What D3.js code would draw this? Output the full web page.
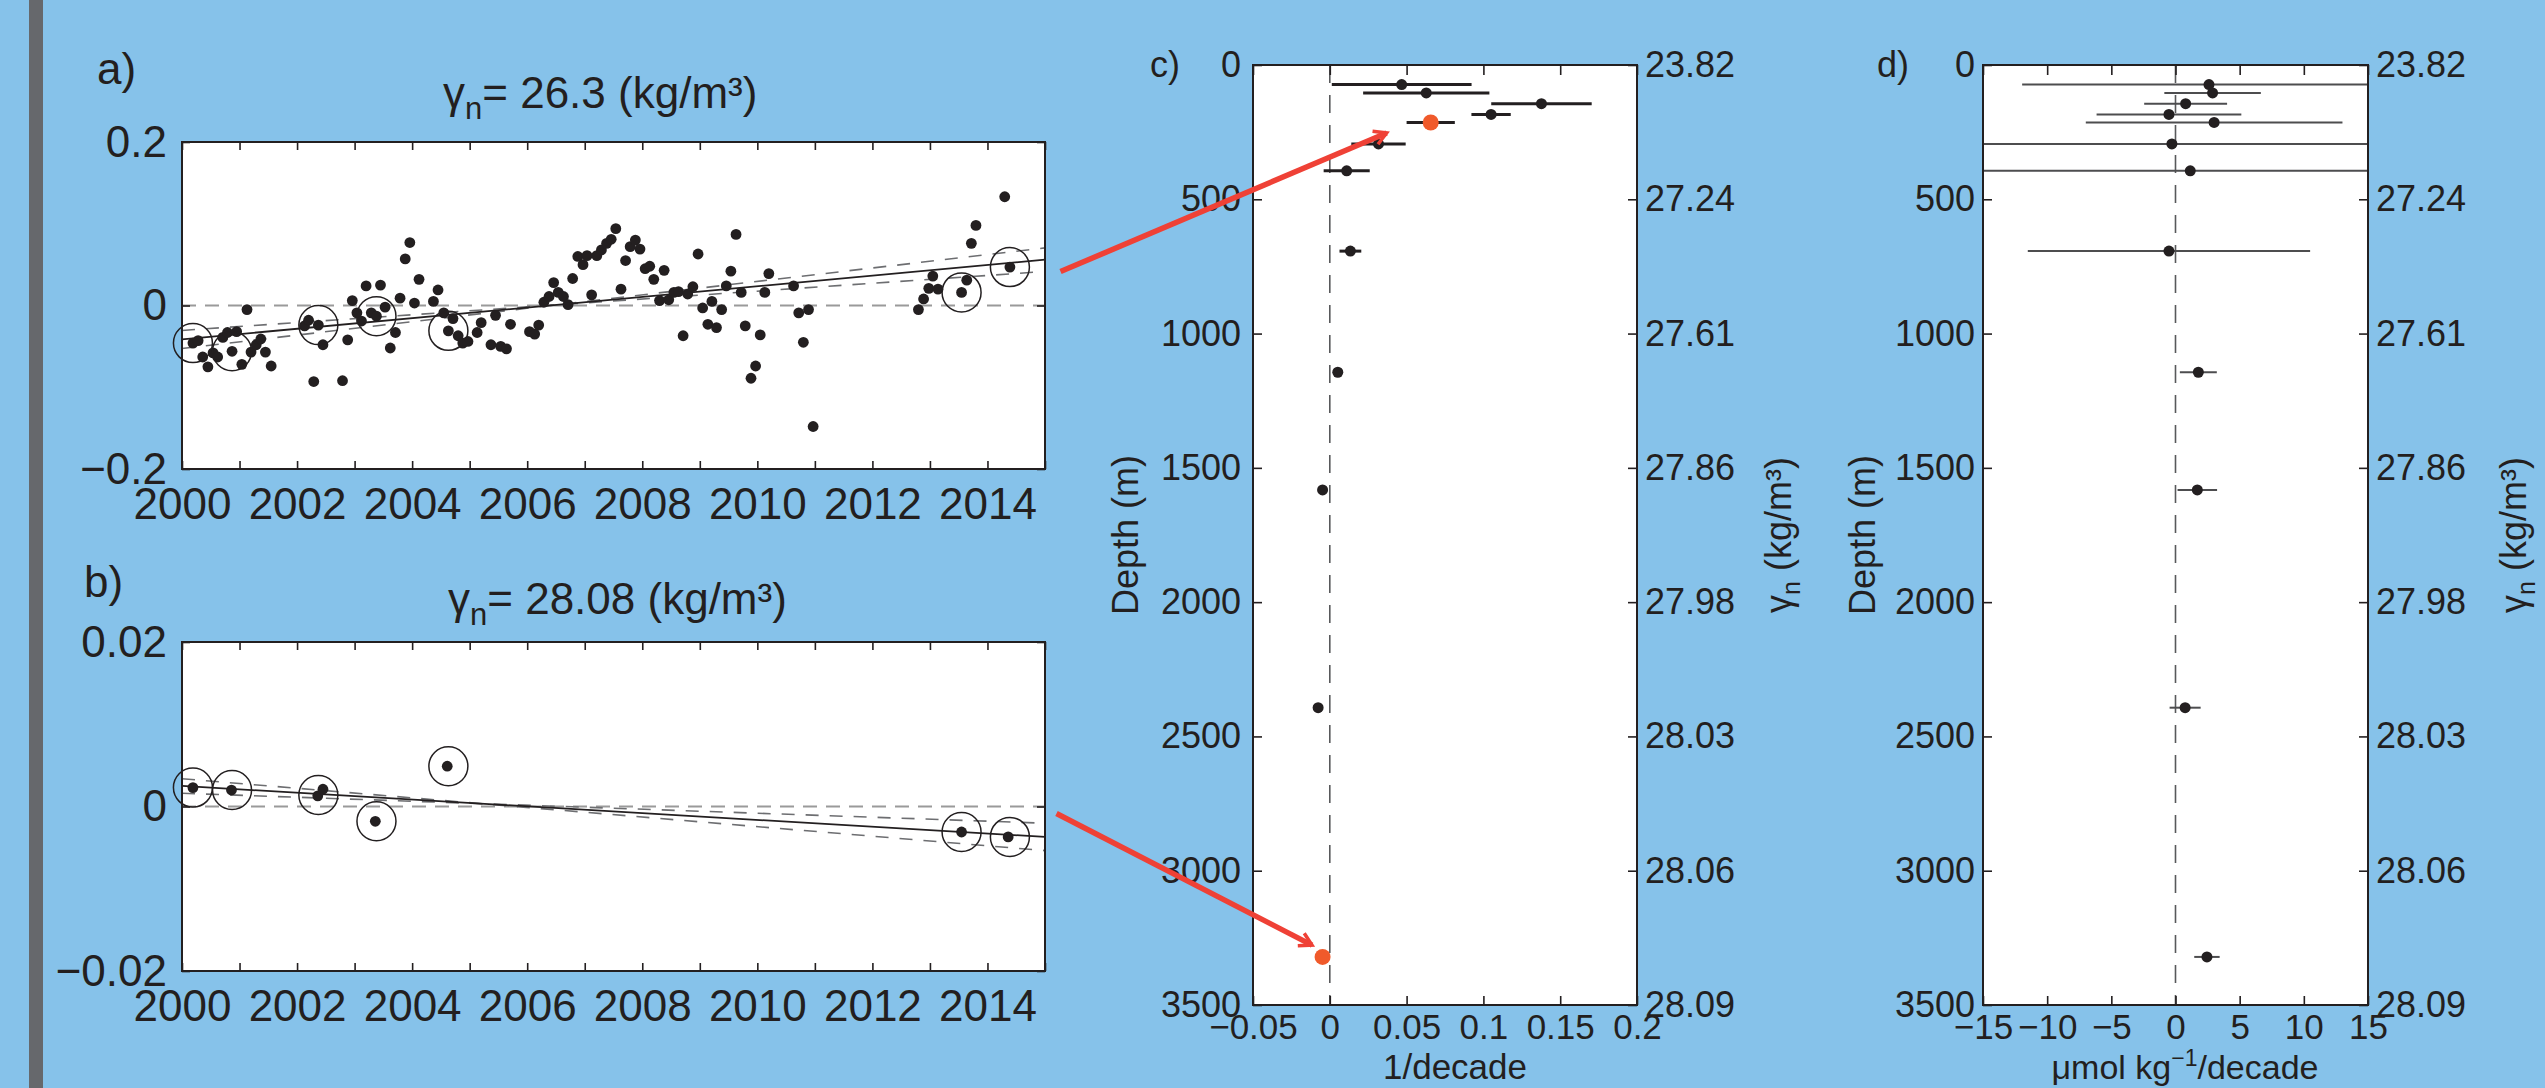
<!DOCTYPE html>
<meta charset="utf-8">
<head>
  <style>
    body { margin: 0; background: #86c2ea; }
    svg text { font-family: "Liberation Sans", Arial, Helvetica, sans-serif; fill: #231f20; }
  </style>
</head>
<script src="https://d3js.org/d3.v7.min.js"></script>
<div id="my_dataviz"></div>
<script>
const W = 2545, H = 1088;
const INK = "#231f20";
const RED = "#f05a2b";

// ---- panel a: gamma_n = 26.3 anomaly series
const yearsA = [2000.19, 2000.28, 2000.36, 2000.45, 2000.54, 2000.62, 2000.71, 2000.79, 2000.87, 2000.95,
  2001.04, 2001.13, 2001.20, 2001.29, 2001.37, 2001.45, 2001.55, 2002.13, 2002.20, 2002.29,
  2002.37, 2002.45, 2002.79, 2002.88, 2002.96, 2003.04, 2003.12, 2003.20, 2003.29, 2003.38,
  2003.45, 2003.53, 2003.62, 2003.71, 2003.79, 2003.88, 2003.96, 2004.04, 2004.12, 2004.37,
  2004.45, 2004.55, 2004.63, 2004.71, 2004.80, 2004.88, 2004.97, 2005.13, 2005.20, 2005.37,
  2005.45, 2005.54, 2005.64, 2005.71, 2006.04, 2006.13, 2006.20, 2006.29, 2006.38, 2006.46,
  2006.54, 2006.63, 2006.71, 2006.79, 2006.88, 2006.97, 2007.04, 2007.12, 2007.21, 2007.29,
  2007.38, 2007.46, 2007.54, 2007.63, 2007.71, 2007.79, 2007.88, 2007.96, 2008.05, 2008.13,
  2008.20, 2008.30, 2008.38, 2008.46, 2008.55, 2008.63, 2008.71, 2008.79, 2008.88, 2008.97,
  2009.05, 2009.14, 2009.21, 2009.29, 2009.38, 2009.46, 2009.54, 2009.63, 2009.72, 2009.79,
  2009.89, 2009.97, 2010.05, 2010.13, 2010.20, 2010.63, 2010.72, 2010.80, 2010.89, 2010.97,
  2012.80, 2012.89, 2012.98, 2013.05, 2013.14, 2013.55, 2013.64, 2013.72, 2013.80, 2014.30,
  2014.39];
const valuesA = [-0.046, -0.043, -0.063, -0.075, -0.058, -0.063, -0.039, -0.033, -0.056, -0.032,
  -0.072, -0.005, -0.057, -0.048, -0.041, -0.057, -0.074, -0.025, -0.018, -0.093,
  -0.024, -0.048, -0.092, -0.042, 0.006, -0.009, -0.019, 0.024, -0.009, -0.013,
  0.025, -0.002, -0.052, -0.033, 0.009, 0.057, 0.077, 0.003, 0.032, 0.005,
  0.019, -0.009, -0.031, -0.016, -0.037, -0.046, -0.044, -0.033, -0.021, -0.048,
  -0.012, -0.050, -0.053, -0.023, -0.032, -0.035, -0.024, 0.004, 0.011, 0.028,
  0.016, 0.011, 0.001, 0.033, 0.060, 0.050, 0.061, 0.013, 0.061, 0.068,
  0.076, 0.081, 0.094, 0.020, 0.055, 0.072, 0.080, 0.069, 0.045, 0.048,
  0.032, 0.006, 0.043, 0.007, 0.016, 0.017, -0.037, 0.014, 0.023, 0.063,
  -0.003, -0.023, 0.005, -0.027, -0.005, 0.024, 0.042, 0.087, 0.016, -0.025,
  -0.089, -0.074, -0.036, 0.016, 0.039, 0.024, -0.009, -0.045, -0.005, -0.148,
  -0.005, 0.008, 0.021, 0.036, 0.020, 0.016, 0.031, 0.076, 0.098, 0.133,
  0.047];
const cruiseYears = [2000.19, 2000.87, 2002.37, 2003.38, 2004.63, 2013.55, 2014.39];
const cruiseA = [-0.046, -0.056, -0.024, -0.013, -0.031, 0.016, 0.047];

// ---- panel b: gamma_n = 28.08
const yearsB = [2000.19, 2000.86, 2002.36, 2002.45, 2003.36, 2004.61, 2013.55, 2014.36];
const valuesB = [0.0023, 0.0020, 0.0013, 0.0021, -0.0018, 0.0049, -0.0031, -0.0037];
const cruiseB = [0.0023, 0.0020, 0.0014, -0.0018, 0.0049, -0.0031, -0.0037];

// fitted lines, values at the two ends of the period
const fitYears = [2000, 2015];
const fitA = [-0.0415, 0.056];
const fanA = [[-0.0526, 0.0705], [-0.0305, 0.0416]];
const fitB = [0.0025, -0.0037];
const fanB = [[0.00338, -0.00536], [0.00161, -0.00203]];

// ---- panels c, d: trends by depth
const depths = [73, 104, 144, 184, 214, 294, 394, 693, 1144, 1582, 2393, 3321];
const highlightDepths = [214, 3321];
const trendC = [0.0468, 0.0628, 0.1378, 0.105, 0.0657, 0.0317, 0.011, 0.0134, 0.0052, -0.0047, -0.0076, -0.0047];
const errC = [0.0455, 0.0411, 0.0327, 0.0128, 0.0157, 0.0177, 0.015, 0.0071, 0.001, 0.003, 0.002, 0.001];
const trendD = [2.61, 2.89, 0.79, -0.51, 3.01, -0.28, 1.15, -0.51, 1.78, 1.70, 0.75, 2.45];
const errD = [14.56, 3.76, 3.23, 5.64, 10.0, 20, 25, 11.0, 1.44, 1.54, 1.21, 0.99];
const depthTicks = [0, 500, 1000, 1500, 2000, 2500, 3000, 3500];
const gammaLabels = ["23.82", "27.24", "27.61", "27.86", "27.98", "28.03", "28.06", "28.09"];
const ticksC = [-0.05, 0, 0.05, 0.1, 0.15, 0.2];
const labelsC = ["\u22120.05", "0", "0.05", "0.1", "0.15", "0.2"];
const ticksD = [-15, -10, -5, 0, 5, 10, 15];
const labelsD = ["\u221215", "\u221210", "\u22125", "0", "5", "10", "15"];

// arrows: from panel a / b (year, value) to panel c (trend, depth)
const arrowFrom = [[2015.27, 0.0415], [2015.2, -0.00085]];
const arrowTo = [[0.037, 253], [-0.0116, 3277]];

var svg = d3.select("#my_dataviz")
  .append("svg")
  .attr("width", W)
  .attr("height", H)
  .style("display", "block");

svg.append("rect").attr("width", W).attr("height", H).attr("fill", "#86c2ea");
svg.append("rect").attr("x", 29).attr("width", 14).attr("height", H).attr("fill", "#66686c");

function styleAxis(sel, size) {
  sel.select(".domain").remove();
  sel.selectAll(".tick line").attr("stroke", INK).attr("stroke-width", 1.6);
  sel.selectAll("text").attr("font-size", size).attr("fill", INK);
}

function timePanel(o) {
  const x = d3.scaleLinear().domain([2000, 2015]).range([182, 1045]);
  const y = d3.scaleLinear().domain(o.yDomain).range([o.bottom, o.top]);
  const g = svg.append("g");

  g.append("rect")
    .attr("x", 182).attr("y", o.top)
    .attr("width", 1045 - 182).attr("height", o.bottom - o.top)
    .attr("fill", "white");

  g.append("line")
    .attr("x1", x(2000)).attr("x2", x(2015))
    .attr("y1", y(0)).attr("y2", y(0))
    .attr("stroke", "#9a9a9a").attr("stroke-width", 2)
    .attr("stroke-dasharray", "14,9");

  const line = d3.line().x(d => x(d[0])).y(d => y(d[1]));
  o.fan.forEach(f => {
    g.append("path")
      .attr("d", line(fitYears.map((t, i) => [t, f[i]])))
      .attr("fill", "none").attr("stroke", "#6d6e71").attr("stroke-width", 1.6)
      .attr("stroke-dasharray", "13,11");
  });
  g.append("path")
    .attr("d", line(fitYears.map((t, i) => [t, o.fit[i]])))
    .attr("fill", "none").attr("stroke", INK).attr("stroke-width", 1.8);

  g.selectAll(null).data(o.years).join("circle")
    .attr("cx", d => x(d))
    .attr("cy", (d, i) => y(o.values[i]))
    .attr("r", 5.4)
    .attr("fill", INK);

  g.selectAll(null).data(cruiseYears).join("circle")
    .attr("cx", d => x(d))
    .attr("cy", (d, i) => y(o.cruise[i]))
    .attr("r", 19.5)
    .attr("fill", "none").attr("stroke", INK).attr("stroke-width", 1.5);

  g.append("rect")
    .attr("x", 182).attr("y", o.top)
    .attr("width", 1045 - 182).attr("height", o.bottom - o.top)
    .attr("fill", "none").attr("stroke", INK).attr("stroke-width", 2);

  const years = d3.range(2000, 2016);
  g.append("g").attr("transform", `translate(0,${o.bottom})`)
    .call(d3.axisBottom(x).tickValues(years).tickSize(-8).tickPadding(19)
      .tickFormat(d => (d % 2 === 0 && d < 2015) ? String(d) : ""))
    .call(styleAxis, 44);
  g.append("g").attr("transform", `translate(0,${o.top})`)
    .call(d3.axisTop(x).tickValues(years).tickSize(-8).tickFormat(""))
    .call(styleAxis, 44);
  g.append("g").attr("transform", "translate(182,0)")
    .call(d3.axisLeft(y).tickValues(o.yTicks).tickSize(-8).tickPadding(15)
      .tickFormat((d, i) => o.yLabels[i]))
    .call(styleAxis, 44);
  g.append("g").attr("transform", "translate(1045,0)")
    .call(d3.axisRight(y).tickValues(o.yTicks).tickSize(-8).tickFormat(""))
    .call(styleAxis, 44);

  g.append("text").attr("x", o.letterX).attr("y", o.letterY)
    .attr("font-size", 44).text(o.letter);

  const t = g.append("text").attr("x", o.titleX).attr("y", o.titleY).attr("font-size", 44);
  t.append("tspan").text("\u03b3");
  t.append("tspan").attr("font-size", 31).attr("dy", 11).text("n");
  t.append("tspan").attr("dy", -11).text("= " + o.title + " (kg/m\u00b3)");

  return { x, y };
}

function depthPanel(o) {
  const x = d3.scaleLinear().domain(o.xDomain).range([o.left, o.right]).clamp(true);
  const y = d3.scaleLinear().domain([0, 3500]).range([65, 1005]);
  const g = svg.append("g");

  g.append("rect")
    .attr("x", o.left).attr("y", 65)
    .attr("width", o.right - o.left).attr("height", 1005 - 65)
    .attr("fill", "white");

  g.append("line")
    .attr("x1", x(0)).attr("x2", x(0)).attr("y1", 65).attr("y2", 1005)
    .attr("stroke", "#58595b").attr("stroke-width", 1.6)
    .attr("stroke-dasharray", "18,12");

  g.selectAll(null).data(depths).join("line")
    .attr("x1", (d, i) => x(o.values[i] - o.errors[i]))
    .attr("x2", (d, i) => x(o.values[i] + o.errors[i]))
    .attr("y1", d => y(d)).attr("y2", d => y(d))
    .attr("stroke", o.barColor).attr("stroke-width", o.barWidth);

  g.selectAll(null).data(depths).join("circle")
    .attr("cx", (d, i) => x(o.values[i]))
    .attr("cy", d => y(d))
    .attr("r", d => (o.highlight && highlightDepths.includes(d)) ? 8 : 5.5)
    .attr("fill", d => (o.highlight && highlightDepths.includes(d)) ? RED : INK);

  g.append("rect")
    .attr("x", o.left).attr("y", 65)
    .attr("width", o.right - o.left).attr("height", 1005 - 65)
    .attr("fill", "none").attr("stroke", INK).attr("stroke-width", 2);

  g.append("g").attr("transform", "translate(0,1005)")
    .call(d3.axisBottom(x).tickValues(o.xTicks).tickSize(-9).tickPadding(9)
      .tickFormat((d, i) => o.xLabels[i]))
    .call(styleAxis, 35);
  g.append("g").attr("transform", "translate(0,65)")
    .call(d3.axisTop(x).tickValues(o.xTicks).tickSize(-10).tickFormat(""))
    .call(styleAxis, 35);
  g.append("g").attr("transform", `translate(${o.left},0)`)
    .call(d3.axisLeft(y).tickValues(depthTicks).tickSize(-9).tickPadding(o.padLeft)
      .tickFormat(d => String(d)))
    .call(styleAxis, 36);
  g.append("g").attr("transform", `translate(${o.right},0)`)
    .call(d3.axisRight(y).tickValues(depthTicks).tickSize(-9).tickPadding(8)
      .tickFormat((d, i) => gammaLabels[i]))
    .call(styleAxis, 36);

  g.append("text").attr("x", o.letterX).attr("y", 77).attr("font-size", 36).text(o.letter);

  g.append("text")
    .attr("transform", `translate(${o.depthLabelX},535) rotate(-90)`)
    .attr("text-anchor", "middle").attr("font-size", 36)
    .text("Depth (m)");

  const gl = g.append("text")
    .attr("transform", `translate(${o.gammaLabelX},535) rotate(-90)`)
    .attr("text-anchor", "middle").attr("font-size", 36);
  gl.append("tspan").text("\u03b3");
  gl.append("tspan").attr("font-size", 25).attr("dy", 9).text("n");
  gl.append("tspan").attr("dy", -9).text(" (kg/m\u00b3)");

  return { g, x, y };
}

const pa = timePanel({
  top: 142, bottom: 469, yDomain: [-0.2, 0.2],
  years: yearsA, values: valuesA, cruise: cruiseA,
  fit: fitA, fan: fanA,
  yTicks: [-0.2, 0, 0.2], yLabels: ["\u22120.2", "0", "0.2"],
  letter: "a)", letterX: 97, letterY: 84,
  title: "26.3", titleX: 443, titleY: 108
});

const pb = timePanel({
  top: 642, bottom: 971, yDomain: [-0.02, 0.02],
  years: yearsB, values: valuesB, cruise: cruiseB,
  fit: fitB, fan: fanB,
  yTicks: [-0.02, 0, 0.02], yLabels: ["\u22120.02", "0", "0.02"],
  letter: "b)", letterX: 84, letterY: 597,
  title: "28.08", titleX: 448, titleY: 614
});

const pc = depthPanel({
  left: 1253, right: 1637, xDomain: [-0.05, 0.2],
  values: trendC, errors: errC, barColor: INK, barWidth: 3, highlight: true,
  xTicks: ticksC, xLabels: labelsC, padLeft: 12,
  letter: "c)", letterX: 1150, depthLabelX: 1138, gammaLabelX: 1791
});
pc.g.append("text").attr("x", 1455).attr("y", 1079)
  .attr("text-anchor", "middle").attr("font-size", 35).text("1/decade");

const pd = depthPanel({
  left: 1983, right: 2368, xDomain: [-15, 15],
  values: trendD, errors: errD, barColor: "#4d4d4f", barWidth: 2, highlight: false,
  xTicks: ticksD, xLabels: labelsD, padLeft: 8,
  letter: "d)", letterX: 1877, depthLabelX: 1875, gammaLabelX: 2526
});
const ul = pd.g.append("text").attr("x", 2185).attr("y", 1079)
  .attr("text-anchor", "middle").attr("font-size", 34);
ul.append("tspan").text("\u03bcmol kg");
ul.append("tspan").attr("font-size", 23).attr("dy", -13).text("\u22121");
ul.append("tspan").attr("dy", 13).text("/decade");

// red arrows linking the two layers to their trends
const defs = svg.append("defs");
defs.append("marker")
  .attr("id", "head")
  .attr("viewBox", "0 0 10 10")
  .attr("refX", 8).attr("refY", 5)
  .attr("markerWidth", 3.2).attr("markerHeight", 3.2)
  .attr("orient", "auto")
  .append("path")
  .attr("d", "M1,1 L8,5 L1,9")
  .attr("fill", "none").attr("stroke", "#ef4136").attr("stroke-width", 2);

const fromScales = [pa, pb];
arrowFrom.forEach((f, i) => {
  svg.append("line")
    .attr("x1", fromScales[i].x(f[0])).attr("y1", fromScales[i].y(f[1]))
    .attr("x2", pc.x(arrowTo[i][0])).attr("y2", pc.y(arrowTo[i][1]))
    .attr("stroke", "#ef4136").attr("stroke-width", 5.5)
    .attr("marker-end", "url(#head)");
});
</script>
